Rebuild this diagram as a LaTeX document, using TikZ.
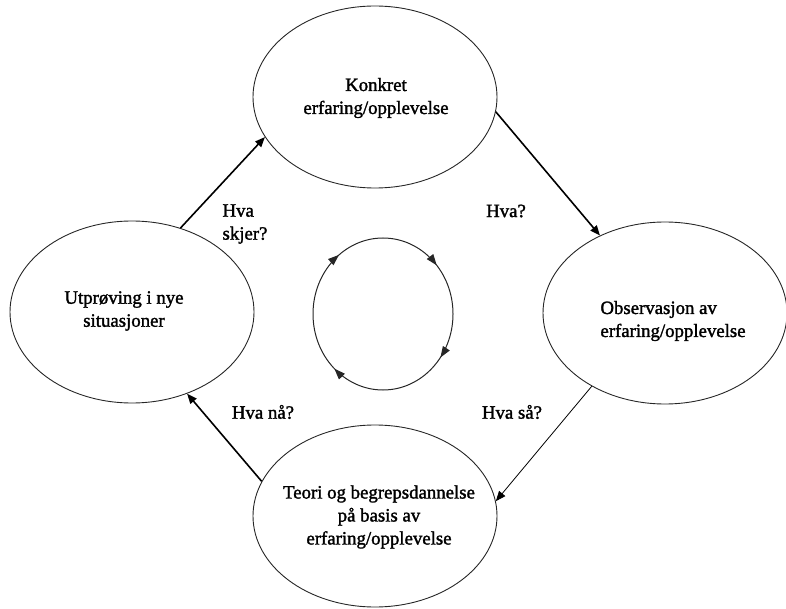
\documentclass[tikz,border=0pt]{standalone}
\usepackage{fontspec}
\setmainfont{Liberation Serif}
\newfontfamily\heavyserif{Liberation Serif}[FakeBold=1.6]
\usetikzlibrary{shapes.geometric,arrows.meta,decorations.markings}
\tikzset{cyctip/.tip={Triangle[length=11pt,width=8pt]}}
\begin{document}
\begin{tikzpicture}[x=1pt,y=-1pt,
  txt/.style={font=\heavyserif\fontsize{18.8}{23}\selectfont},
  stage/.style={draw=black!85, ellipse, line width=0.9pt, minimum width=244pt, minimum height=182pt, inner sep=0pt},
  inside/.style={txt, align=center, inner sep=0pt},
  lbl/.style={txt, align=left, inner sep=0pt},
  flow/.style={-{Triangle[length=10pt,width=8pt]}, line width=1.6pt},
  thinflow/.style={-{Triangle[length=10pt,width=8pt]}, line width=0.8pt},
]
\useasboundingbox (0,0) rectangle (786,609);

\node[stage] (top) at (375,97) {};
\node[stage] (left) at (132,312) {};
\node[stage] (right) at (665,313) {};
\node[stage] (bottom) at (375,516) {};

\node[inside] (ttop) at (376,98) {Konkret\\erfaring/opplevelse};
\node[inside] (tleft) at (124,311) {Utprøving i nye\\situasjoner};
\node[inside, align=left] (tright) at (673,321) {Observasjon av\\erfaring/opplevelse};
\node[inside] (tbottom) at (379,517) {Teori og begrepsdannelse\\på basis av\\erfaring/opplevelse};

\draw[flow] (left.60.7) -- (top.200.9);
\draw[flow] (top.-7) -- (right.130.8);
\draw[thinflow] (right.225.8) -- (bottom.7.5);
\draw[flow] (bottom.163) -- (left.-56.6);

\node[lbl] (l1) at (245,224) {Hva\\skjer?};
\node[lbl] (l2) at (506,211) {Hva?};
\node[lbl] (l3) at (512,412) {Hva så?};
\node[lbl] (l4) at (263,412) {Hva nå?};

\draw[line width=1pt, black!85, postaction={decorate},
  decoration={markings,
    mark=at position 0.10 with {\arrow{cyctip}},
    mark=at position 0.369 with {\arrow{cyctip}},
    mark=at position 0.645 with {\arrow{cyctip}},
    mark=at position 0.886 with {\arrow{cyctip}}}]
  (383,314) ellipse [x radius=70, y radius=76];
\end{tikzpicture}
\end{document}
